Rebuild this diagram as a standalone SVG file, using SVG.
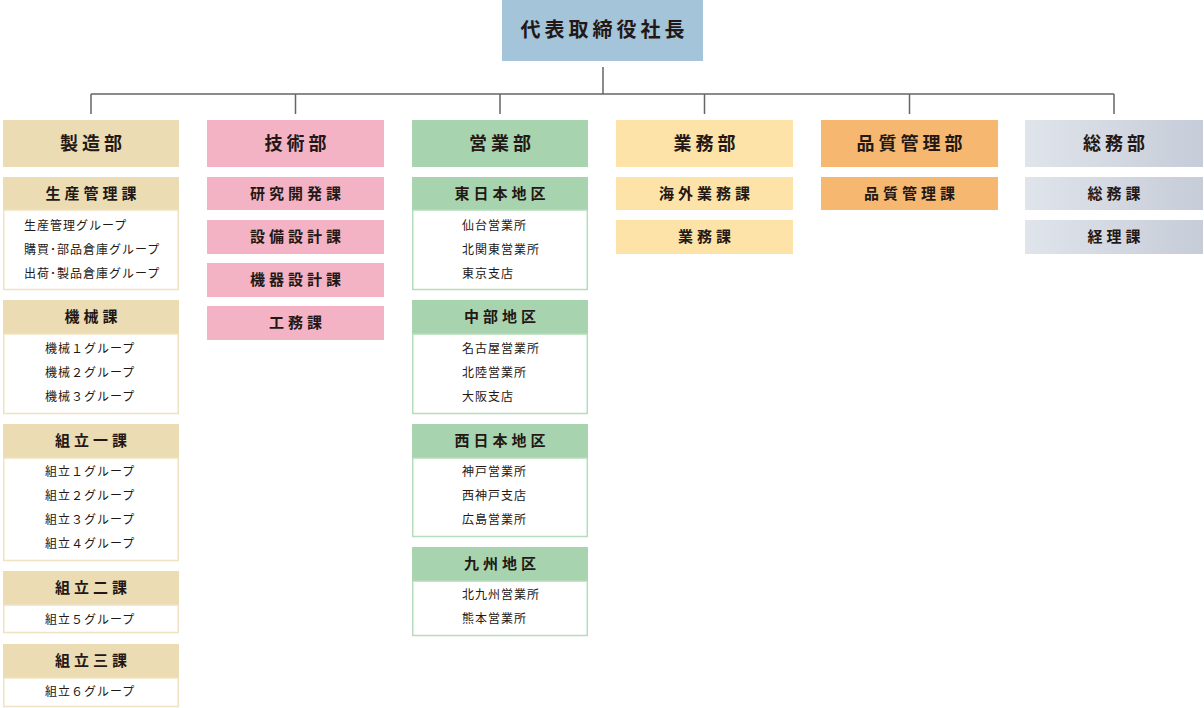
<svg xmlns="http://www.w3.org/2000/svg" width="1204" height="708" viewBox="0 0 1204 708">
<defs>
<linearGradient id="gGray" x1="0" y1="0" x2="1" y2="0">
<stop offset="0" stop-color="#e0e4eb"/>
<stop offset="1" stop-color="#c6ccd8"/>
</linearGradient>
<style>
text{font-family:"Noto Sans CJK JP","Noto Sans",sans-serif;fill:#231815;dominant-baseline:central}
.top{font-size:20px;font-weight:700;letter-spacing:4px;text-anchor:middle}
.dept{font-size:18px;font-weight:700;letter-spacing:4px;text-anchor:middle}
.sub{font-size:15px;font-weight:700;letter-spacing:4px;text-anchor:middle}
.item{font-size:12px;letter-spacing:1px}
.conn{stroke:#666;stroke-width:1.5;fill:none}
.beige{fill:#ecdcb4}
.beigeB{fill:#fff;stroke:#efe2c2;stroke-width:1.5}
.pink{fill:#f4b3c4}
.green{fill:#a7d4ae}
.greenB{fill:#fff;stroke:#b5dcbb;stroke-width:1.5}
.yellow{fill:#fde3a7}
.orange{fill:#f6b871}
.gray{fill:url(#gGray)}
</style>
</defs>
<rect width="1204" height="708" fill="#fff"/>

<g id="connectors">
<path class="conn" d="M603 67V94M91 94H1114M91 94V114M295.5 94V114M500 94V114M704.5 94V114M909.5 94V114M1114 94V114"/>
</g>

<g id="president">
<rect x="502" y="0" width="201" height="61" fill="#a3c4d9"/>
<text class="top" x="604.5" y="28.5">代表取締役社長</text>
</g>

<g id="seizo">
<rect class="beige" x="3" y="120" width="176" height="47"/>
<text class="dept" x="93" y="142">製造部</text>

<rect class="beige" x="3" y="177" width="176" height="33"/>
<text class="sub" x="93" y="192">生産管理課</text>
<rect class="beigeB" x="3.75" y="210" width="174.5" height="79.5"/>
<text class="item" x="24" y="224">生産管理グループ</text>
<text class="item" x="24" y="248">購買･部品倉庫グループ</text>
<text class="item" x="24" y="272">出荷･製品倉庫グループ</text>

<rect class="beige" x="3" y="300" width="176" height="34"/>
<text class="sub" x="93" y="315.5">機械課</text>
<rect class="beigeB" x="3.75" y="334" width="174.5" height="79.5"/>
<text class="item" x="45" y="347">機械１グループ</text>
<text class="item" x="45" y="371">機械２グループ</text>
<text class="item" x="45" y="395">機械３グループ</text>

<rect class="beige" x="3" y="424" width="176" height="34"/>
<text class="sub" x="93" y="439.5">組立一課</text>
<rect class="beigeB" x="3.75" y="458" width="174.5" height="102.5"/>
<text class="item" x="45" y="470">組立１グループ</text>
<text class="item" x="45" y="494">組立２グループ</text>
<text class="item" x="45" y="518">組立３グループ</text>
<text class="item" x="45" y="542">組立４グループ</text>

<rect class="beige" x="3" y="571" width="176" height="34"/>
<text class="sub" x="93" y="586.5">組立二課</text>
<rect class="beigeB" x="3.75" y="605" width="174.5" height="27.5"/>
<text class="item" x="45" y="618">組立５グループ</text>

<rect class="beige" x="3" y="644" width="176" height="34"/>
<text class="sub" x="93" y="659.5">組立三課</text>
<rect class="beigeB" x="3.75" y="678" width="174.5" height="28.5"/>
<text class="item" x="45" y="690">組立６グループ</text>
</g>

<g id="gijutsu">
<rect class="pink" x="207" y="120" width="177" height="47"/>
<text class="dept" x="297.5" y="142">技術部</text>
<rect class="pink" x="207" y="177" width="177" height="33"/>
<text class="sub" x="297.5" y="192">研究開発課</text>
<rect class="pink" x="207" y="220" width="177" height="34"/>
<text class="sub" x="297.5" y="235.5">設備設計課</text>
<rect class="pink" x="207" y="263" width="177" height="34"/>
<text class="sub" x="297.5" y="278.5">機器設計課</text>
<rect class="pink" x="207" y="306" width="177" height="34"/>
<text class="sub" x="297.5" y="321.5">工務課</text>
</g>

<g id="eigyo">
<rect class="green" x="412" y="120" width="176" height="47"/>
<text class="dept" x="502" y="142">営業部</text>

<rect class="green" x="412" y="177" width="176" height="33"/>
<text class="sub" x="502" y="192">東日本地区</text>
<rect class="greenB" x="412.75" y="210" width="174.5" height="79.5"/>
<text class="item" x="462" y="224">仙台営業所</text>
<text class="item" x="462" y="248">北関東営業所</text>
<text class="item" x="462" y="272">東京支店</text>

<rect class="green" x="412" y="300" width="176" height="34"/>
<text class="sub" x="502" y="315.5">中部地区</text>
<rect class="greenB" x="412.75" y="334" width="174.5" height="79.5"/>
<text class="item" x="462" y="347">名古屋営業所</text>
<text class="item" x="462" y="371">北陸営業所</text>
<text class="item" x="462" y="395">大阪支店</text>

<rect class="green" x="412" y="424" width="176" height="34"/>
<text class="sub" x="502" y="439.5">西日本地区</text>
<rect class="greenB" x="412.75" y="458" width="174.5" height="78.5"/>
<text class="item" x="462" y="470">神戸営業所</text>
<text class="item" x="462" y="494">西神戸支店</text>
<text class="item" x="462" y="518">広島営業所</text>

<rect class="green" x="412" y="547" width="176" height="34"/>
<text class="sub" x="502" y="562.5">九州地区</text>
<rect class="greenB" x="412.75" y="581" width="174.5" height="54.5"/>
<text class="item" x="462" y="593">北九州営業所</text>
<text class="item" x="462" y="617">熊本営業所</text>
</g>

<g id="gyomu">
<rect class="yellow" x="616" y="120" width="177" height="47"/>
<text class="dept" x="706.5" y="142">業務部</text>
<rect class="yellow" x="616" y="177" width="177" height="33"/>
<text class="sub" x="706.5" y="192">海外業務課</text>
<rect class="yellow" x="616" y="220" width="177" height="34"/>
<text class="sub" x="706.5" y="235.5">業務課</text>
</g>

<g id="hinshitsu">
<rect class="orange" x="821" y="120" width="177" height="47"/>
<text class="dept" x="911.5" y="142">品質管理部</text>
<rect class="orange" x="821" y="177" width="177" height="33"/>
<text class="sub" x="911.5" y="192">品質管理課</text>
</g>

<g id="somu">
<rect class="gray" x="1025" y="120" width="178" height="47"/>
<text class="dept" x="1116" y="142">総務部</text>
<rect class="gray" x="1025" y="177" width="178" height="33"/>
<text class="sub" x="1116" y="192">総務課</text>
<rect class="gray" x="1025" y="220" width="178" height="34"/>
<text class="sub" x="1116" y="235.5">経理課</text>
</g>
</svg>
